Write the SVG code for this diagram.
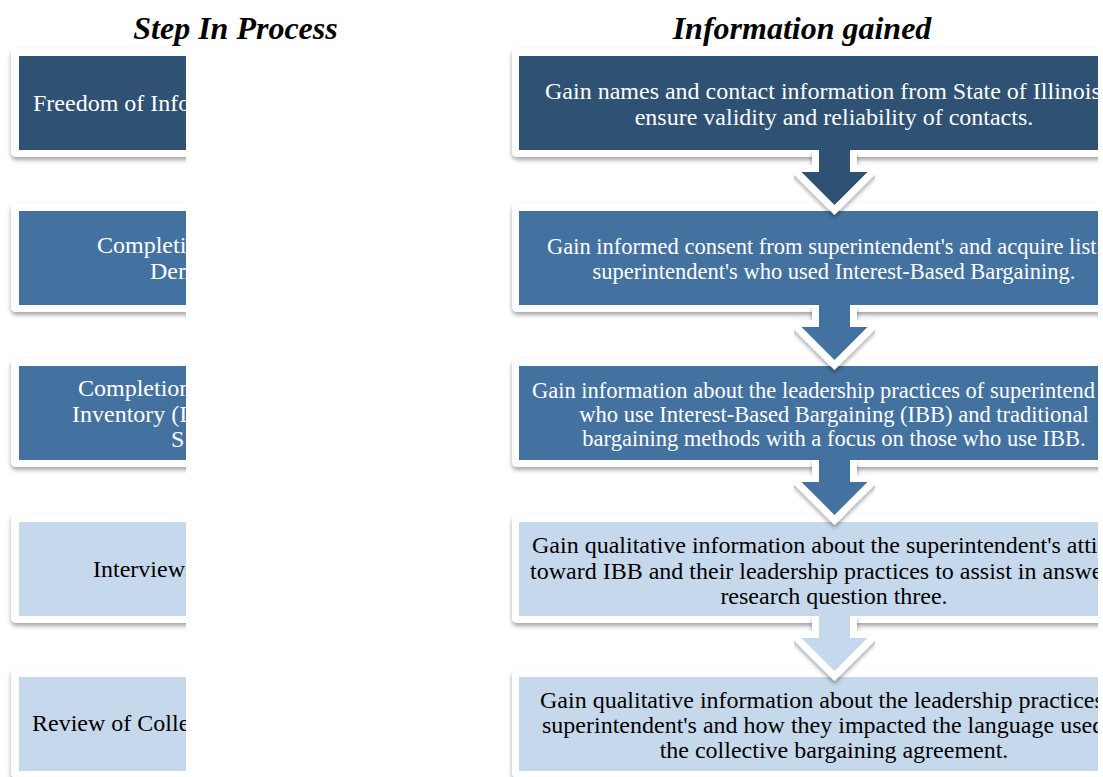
<svg xmlns="http://www.w3.org/2000/svg" width="1103" height="777" viewBox="0 0 1103 777">
<style>
.title{font-family:"Liberation Serif","Times New Roman",serif;font-size:32px;font-weight:bold;font-style:italic;fill:#000}
.t{font-family:"Liberation Serif","Times New Roman",serif;font-size:24px}
.s{font-size:22.5px}
.w{fill:#fff}
.k{fill:#000}
.frame{fill:#fff;filter:url(#sh)}
.c1{fill:#2E5174}
.c2{fill:#4472A0}
.c3{fill:#C6D9EC}
.aout{fill:none;stroke:#fff;stroke-width:14;stroke-linejoin:miter;stroke-miterlimit:4;filter:url(#sh)}
</style>
<defs>
<filter id="sh" x="-10%" y="-20%" width="120%" height="150%">
<feGaussianBlur in="SourceAlpha" stdDeviation="2"/>
<feOffset dy="3" result="b"/>
<feFlood flood-color="#000" flood-opacity="0.35"/>
<feComposite in2="b" operator="in"/>
<feMerge><feMergeNode/><feMergeNode in="SourceGraphic"/></feMerge>
</filter>
<clipPath id="clipL"><rect x="0" y="0" width="186" height="777"/></clipPath>
<clipPath id="clipR"><rect x="0" y="0" width="1098" height="777"/></clipPath>
</defs>
<rect width="1103" height="777" fill="#fff"/>
<g id="titles">
<text class="title" x="235.5" y="39" text-anchor="middle">Step In Process</text>
<text class="title" x="802" y="39" text-anchor="middle">Information gained</text>
</g>

<g id="step1" clip-path="url(#clipL)">
<rect class="frame" x="11" y="48" width="400" height="109" rx="5"/>
<rect class="c1" x="19" y="56" width="385" height="94"/>
<text class="t w" x="33" y="111">Freedom of Info</text>
</g>
<g id="step2" clip-path="url(#clipL)">
<rect class="frame" x="11" y="203" width="400" height="109" rx="5"/>
<rect class="c2" x="19" y="211" width="385" height="94"/>
<text class="t w" x="97" y="253">Completi</text>
<text class="t w" x="150" y="279">Dem</text>
</g>
<g id="step3" clip-path="url(#clipL)">
<rect class="frame" x="11" y="358" width="400" height="109" rx="5"/>
<rect class="c2" x="19" y="366" width="385" height="94"/>
<text class="t w" x="78" y="396">Completion</text>
<text class="t w" x="72" y="422">Inventory (I</text>
<text class="t w" x="171" y="447">S</text>
</g>
<g id="step4" clip-path="url(#clipL)">
<rect class="frame" x="11" y="514" width="400" height="109" rx="5"/>
<rect class="c3" x="19" y="522" width="385" height="94"/>
<text class="t k" x="93" y="577">Interviews</text>
</g>
<g id="step5" clip-path="url(#clipL)">
<rect class="frame" x="11" y="669" width="400" height="109" rx="5"/>
<rect class="c3" x="19" y="677" width="385" height="94"/>
<text class="t k" x="32" y="731">Review of Colle</text>
</g>

<g id="info1" clip-path="url(#clipR)">
<rect class="frame" x="512" y="48" width="660" height="109" rx="5"/>
<rect class="c1" x="519" y="56" width="640" height="94"/>
<text class="t w" x="545" y="99">Gain names and contact information from State of Illinois</text>
<text class="t w" x="834" y="125" text-anchor="middle">ensure validity and reliability of contacts.</text>
</g>
<g id="info2" clip-path="url(#clipR)">
<rect class="frame" x="512" y="203" width="660" height="109" rx="5"/>
<rect class="c2" x="519" y="211" width="640" height="94"/>
<text class="t s w" x="547" y="254">Gain informed consent from superintendent's and acquire list</text>
<text class="t s w" x="834" y="279" text-anchor="middle">superintendent's who used Interest-Based Bargaining.</text>
</g>
<g id="info3" clip-path="url(#clipR)">
<rect class="frame" x="512" y="358" width="660" height="109" rx="5"/>
<rect class="c2" x="519" y="366" width="640" height="94"/>
<text class="t s w" x="532" y="398">Gain information about the leadership practices of superintend</text>
<text class="t s w" x="834" y="422" text-anchor="middle">who use Interest-Based Bargaining (IBB) and traditional</text>
<text class="t s w" x="834" y="446" text-anchor="middle">bargaining methods with a focus on those who use IBB.</text>
</g>
<g id="info4" clip-path="url(#clipR)">
<rect class="frame" x="512" y="514" width="660" height="109" rx="5"/>
<rect class="c3" x="519" y="522" width="640" height="94"/>
<text class="t k" x="532" y="553">Gain qualitative information about the superintendent's atti</text>
<text class="t k" x="530" y="578.5">toward IBB and their leadership practices to assist in answe</text>
<text class="t k" x="834" y="604" text-anchor="middle">research question three.</text>
</g>
<g id="info5" clip-path="url(#clipR)">
<rect class="frame" x="512" y="669" width="660" height="109" rx="5"/>
<rect class="c3" x="519" y="677" width="640" height="94"/>
<text class="t k" x="540" y="708">Gain qualitative information about the leadership practices</text>
<text class="t k" x="542" y="733">superintendent's and how they impacted the language used</text>
<text class="t k" x="834" y="758" text-anchor="middle">the collective bargaining agreement.</text>
</g>

<g id="connectors">
<path class="aout" d="M819,150 L819,172 L801.5,172 L834.5,205 L867.5,172 L850,172 L850,150"/>
<path class="c1" d="M819,148 L819,172 L801.5,172 L834.5,205 L867.5,172 L850,172 L850,148 Z"/>
<path class="aout" d="M819,305 L819,327 L801.5,327 L834.5,360 L867.5,327 L850,327 L850,305"/>
<path class="c2" d="M819,303 L819,327 L801.5,327 L834.5,360 L867.5,327 L850,327 L850,303 Z"/>
<path class="aout" d="M819,460 L819,482 L801.5,482 L834.5,515 L867.5,482 L850,482 L850,460"/>
<path class="c2" d="M819,458 L819,482 L801.5,482 L834.5,515 L867.5,482 L850,482 L850,458 Z"/>
<path class="aout" d="M819,616 L819,638 L801.5,638 L834.5,671 L867.5,638 L850,638 L850,616"/>
<path class="c3" d="M819,614 L819,638 L801.5,638 L834.5,671 L867.5,638 L850,638 L850,614 Z"/>
</g>
</svg>
